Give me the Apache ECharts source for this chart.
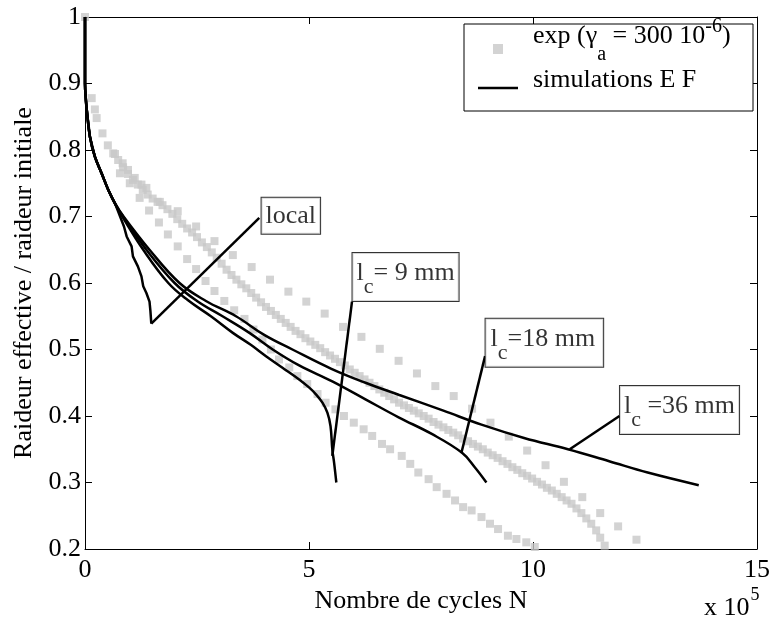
<!DOCTYPE html>
<html>
<head>
<meta charset="utf-8">
<script src="https://cdn.jsdelivr.net/npm/echarts@6/dist/echarts.min.js"></script>
<style>
  html, body { margin: 0; padding: 0; background: #fff; }
  #chart { width: 773px; height: 622px; }
</style>
</head>
<body>
<div id="chart"></div>
<script>
// axes
const xTicks = [0, 5, 10, 15];
const yTicks = [0.2, 0.3, 0.4, 0.5, 0.6, 0.7, 0.8, 0.9, 1];

// experimental points (N in 10^5 cycles, stiffness ratio)
const expUpper = [
  [0, 1.0], [0.15, 0.878], [0.22, 0.861], [0.26, 0.848], [0.39, 0.825], [0.51, 0.807],
  [0.67, 0.794], [0.84, 0.78], [0.96, 0.77], [1.11, 0.758], [1.26, 0.748], [1.37, 0.743],
  [1.67, 0.722], [2.07, 0.708], [2.48, 0.685], [2.89, 0.663], [3.3, 0.642], [3.72, 0.624],
  [4.13, 0.605], [4.54, 0.587], [4.94, 0.572], [5.35, 0.554], [5.76, 0.534], [6.17, 0.519],
  [6.58, 0.501], [7.0, 0.483], [7.41, 0.464], [7.82, 0.445], [8.23, 0.43], [8.64, 0.411],
  [9.05, 0.39], [9.46, 0.369], [9.87, 0.348], [10.28, 0.326], [10.69, 0.301], [11.1, 0.278],
  [11.5, 0.254], [11.9, 0.234], [12.31, 0.214]
];
const expMiddle = [
  [0.63, 0.795], [0.74, 0.785], [0.85, 0.774], [0.96, 0.764], [1.07, 0.755], [1.18, 0.748],
  [1.29, 0.74], [1.4, 0.733], [1.51, 0.727], [1.62, 0.722], [1.73, 0.717], [1.84, 0.711],
  [1.95, 0.704], [2.06, 0.696], [2.17, 0.689], [2.28, 0.682], [2.39, 0.676], [2.5, 0.669],
  [2.61, 0.661], [2.72, 0.654], [2.83, 0.646], [2.94, 0.638], [3.05, 0.629], [3.16, 0.62],
  [3.27, 0.612], [3.38, 0.605], [3.49, 0.598], [3.6, 0.592], [3.71, 0.585], [3.82, 0.578],
  [3.93, 0.571], [4.04, 0.564], [4.15, 0.558], [4.26, 0.552], [4.37, 0.546], [4.48, 0.54],
  [4.59, 0.534], [4.7, 0.528], [4.81, 0.523], [4.92, 0.517], [5.03, 0.512], [5.14, 0.507],
  [5.25, 0.502], [5.36, 0.496], [5.47, 0.491], [5.58, 0.486], [5.69, 0.481], [5.8, 0.476],
  [5.91, 0.47], [6.02, 0.465], [6.13, 0.46], [6.24, 0.455], [6.35, 0.45], [6.46, 0.445],
  [6.57, 0.44], [6.68, 0.435], [6.79, 0.43], [6.9, 0.425], [7.01, 0.42], [7.12, 0.416],
  [7.23, 0.412], [7.34, 0.408], [7.45, 0.404], [7.56, 0.4], [7.67, 0.396], [7.78, 0.391],
  [7.89, 0.387], [8.0, 0.383], [8.11, 0.379], [8.22, 0.375], [8.33, 0.371], [8.44, 0.366],
  [8.55, 0.362], [8.66, 0.358], [8.77, 0.354], [8.88, 0.35], [8.99, 0.345], [9.1, 0.341],
  [9.21, 0.337], [9.32, 0.332], [9.43, 0.328], [9.54, 0.323], [9.65, 0.319], [9.76, 0.314],
  [9.87, 0.31], [9.98, 0.306], [10.09, 0.301], [10.2, 0.297], [10.31, 0.292], [10.42, 0.288],
  [10.53, 0.283], [10.64, 0.278], [10.75, 0.273], [10.86, 0.268], [10.97, 0.261], [11.08, 0.254],
  [11.19, 0.246], [11.3, 0.238], [11.41, 0.228], [11.5, 0.217], [11.6, 0.205]
];
const expLower = [
  [0.78, 0.765], [1.0, 0.75], [1.22, 0.728], [1.43, 0.709], [1.65, 0.691], [1.85, 0.673],
  [2.07, 0.655], [2.28, 0.636], [2.48, 0.621], [2.69, 0.603], [2.89, 0.588], [3.11, 0.573],
  [3.33, 0.559], [3.56, 0.546], [3.76, 0.53], [3.96, 0.515], [4.15, 0.5], [4.33, 0.485],
  [4.56, 0.473], [4.74, 0.46], [4.96, 0.448], [5.19, 0.433], [5.37, 0.42], [5.59, 0.41],
  [5.78, 0.4], [6.0, 0.39], [6.22, 0.38], [6.41, 0.37], [6.63, 0.358], [6.81, 0.35],
  [7.07, 0.34], [7.26, 0.328], [7.44, 0.315], [7.67, 0.305], [7.85, 0.293], [8.07, 0.283],
  [8.26, 0.273], [8.44, 0.263], [8.63, 0.258], [8.85, 0.248], [9.04, 0.238], [9.22, 0.23],
  [9.44, 0.22], [9.63, 0.215], [9.85, 0.21], [10.04, 0.203]
];

// FE simulations
const simLocal = [
  [0, 1.0], [0, 0.9], [0.02, 0.875], [0.04, 0.86], [0.11, 0.82], [0.22, 0.79], [0.37, 0.765],
  [0.52, 0.74], [0.68, 0.718], [0.87, 0.685], [0.93, 0.67], [1.04, 0.655], [1.07, 0.64],
  [1.18, 0.625], [1.26, 0.61], [1.3, 0.595], [1.37, 0.585], [1.44, 0.572], [1.46, 0.558], [1.48, 0.539]
];
const sim9 = [
  [0, 1.0], [0, 0.9], [0.02, 0.875], [0.04, 0.86], [0.11, 0.82], [0.22, 0.79], [0.37, 0.765],
  [0.52, 0.74], [0.68, 0.718], [0.85, 0.698], [1.3, 0.65], [1.86, 0.6], [2.3, 0.574],
  [2.81, 0.55], [3.3, 0.525], [3.7, 0.507], [4.04, 0.49], [4.4, 0.473], [4.78, 0.455],
  [5.0, 0.443], [5.15, 0.433], [5.3, 0.42], [5.41, 0.405], [5.48, 0.385], [5.52, 0.35],
  [5.56, 0.33], [5.61, 0.3]
];
const sim18 = [
  [0, 1.0], [0, 0.9], [0.02, 0.875], [0.04, 0.86], [0.11, 0.82], [0.22, 0.79], [0.37, 0.765],
  [0.52, 0.74], [0.68, 0.718], [0.85, 0.7], [1.37, 0.65], [2.0, 0.6], [2.5, 0.573],
  [3.07, 0.55], [3.67, 0.525], [4.19, 0.5], [4.78, 0.476], [5.52, 0.452], [6.26, 0.425],
  [7.0, 0.398], [7.74, 0.373], [8.41, 0.345], [8.7, 0.323], [8.96, 0.3]
];
const sim36 = [
  [0, 1.0], [0, 0.9], [0.02, 0.875], [0.04, 0.86], [0.11, 0.82], [0.22, 0.79], [0.37, 0.765],
  [0.52, 0.74], [0.68, 0.719], [0.85, 0.701], [1.44, 0.65], [2.11, 0.6], [2.7, 0.573],
  [3.37, 0.55], [4.0, 0.522], [4.63, 0.5], [5.5, 0.471], [6.26, 0.45], [7.0, 0.432],
  [8.0, 0.408], [8.85, 0.387], [9.8, 0.367], [10.78, 0.35], [11.7, 0.332], [12.56, 0.315],
  [13.7, 0.296]
];

// annotation boxes: anchor (left middle of box) and leader line
const noteText = ['local', '{t|l}{sub|c}{t|= 9 mm}', '{t|l}{sub|c}{t|=18 mm}', '{t|l}{sub|c}{t| =36 mm}'];
const noteAnchor = [[3.93, 0.701], [5.96, 0.609], [8.93, 0.51], [11.93, 0.409]];
const noteLeaders = [
  [[3.89, 0.698], [1.48, 0.539]],
  [[5.96, 0.572], [5.52, 0.34]],
  [[8.93, 0.49], [8.4, 0.344]],
  [[11.93, 0.4], [10.82, 0.35]]
];

const FONT = '"Liberation Serif", "Times New Roman", serif';
const expName = 'exp';
const simName = 'simulations E F';

const chart = echarts.init(document.getElementById('chart'));

const simLine = (data, smooth) => ({
  name: simName,
  type: 'line',
  data: data,
  symbol: 'none',
  smooth: smooth,
  z: 4,
  color: '#000',
  lineStyle: { color: '#000', width: 2.5 },
  animation: false
});

const leaderLines = noteLeaders.map((d) => ({
  type: 'line',
  data: d,
  symbol: 'none',
  z: 4,
  color: '#000',
  lineStyle: { color: '#000', width: 2.5 },
  silent: true,
  animation: false
}));

const boxRich = {
  t: { fontSize: 26, fontFamily: FONT, color: '#000', padding: [0, 0, 6, 0] },
  sub: { fontSize: 22, fontFamily: FONT, color: '#000', padding: [22, 0, 0, 0] }
};

const legendRich = {
  t: { fontSize: 26, fontFamily: FONT, color: '#000' },
  sub: { fontSize: 20, fontFamily: FONT, color: '#000', padding: [38, 0, 0, 0] },
  sup: { fontSize: 20, fontFamily: FONT, color: '#000', padding: [0, 0, 18, 0] }
};

const legendCommon = {
  orient: 'vertical',
  left: 478,
  padding: 0,
  itemWidth: 40,
  selectedMode: false,
  textStyle: {
    fontSize: 26, fontFamily: FONT, color: '#000',
    padding: [0, 0, 0, 10],
    rich: legendRich
  }
};

const axisCommon = {
  type: 'value',
  axisLine: { show: true, onZero: false, lineStyle: { color: '#000', width: 1 } },
  axisTick: { show: true, inside: true, length: 7, lineStyle: { color: '#000', width: 1 } },
  splitLine: { show: false }
};

const option = {
  backgroundColor: '#fff',
  animation: false,
  grid: { left: 85, right: 13, top: 17, bottom: 73 },
  xAxis: [
    Object.assign({}, axisCommon, {
      position: 'bottom',
      min: xTicks[0], max: xTicks[xTicks.length - 1], interval: 5,
      name: 'Nombre de cycles N',
      nameLocation: 'middle',
      nameGap: 28,
      nameTextStyle: { fontSize: 26, fontFamily: FONT, color: '#000' },
      axisLabel: { fontSize: 26, fontFamily: FONT, color: '#000', margin: 8 }
    }),
    Object.assign({}, axisCommon, {
      position: 'top',
      min: xTicks[0], max: xTicks[xTicks.length - 1], interval: 5,
      axisLabel: { show: false }
    })
  ],
  yAxis: [
    Object.assign({}, axisCommon, {
      position: 'left',
      min: yTicks[0], max: yTicks[yTicks.length - 1], interval: 0.1,
      name: 'Raideur effective / raideur initiale',
      nameLocation: 'middle',
      nameGap: 46,
      nameTextStyle: { fontSize: 26, fontFamily: FONT, color: '#000' },
      axisLabel: { fontSize: 26, fontFamily: FONT, color: '#000', margin: 4 }
    }),
    Object.assign({}, axisCommon, {
      position: 'right',
      min: yTicks[0], max: yTicks[yTicks.length - 1], interval: 0.1,
      axisLabel: { show: false }
    })
  ],
  legend: [
    Object.assign({}, legendCommon, {
      top: 17,
      itemHeight: 36,
      data: [{ name: expName, icon: 'path://M0,0 M40,36 M15,26 L25,26 L25,36 L15,36 Z' }],
      formatter: () => '{t|exp (γ}{sub|a}{t| = 300 10}{sup|-6}{t|)}'
    }),
    Object.assign({}, legendCommon, {
      top: 60,
      itemHeight: 40,
      data: [{ name: simName, icon: 'path://M0,0 M40,40 M0,26.75 L40,26.75 L40,29.25 L0,29.25 Z' }],
      formatter: (name) => '{t|' + name + '}'
    })
  ],
  graphic: [
    {
      type: 'rect',
      shape: { x: 464, y: 24, width: 289, height: 87 },
      style: { fill: '#fff', stroke: '#000', lineWidth: 1 },
      z: 3
    },
    {
      type: 'text',
      left: 704,
      top: 586,
      z: 10,
      style: {
        text: '{a|x 10}{b|5}',
        rich: {
          a: { fontSize: 26, fontFamily: FONT, color: '#000', padding: [12, 0, 0, 0] },
          b: { fontSize: 18, fontFamily: FONT, color: '#000', padding: [0, 0, 14, 1] }
        }
      }
    }
  ],
  series: [
    {
      name: expName,
      type: 'scatter',
      data: expUpper.concat(expMiddle, expLower),
      symbol: 'rect',
      symbolSize: 8,
      color: '#c8c8c8',
      itemStyle: { color: '#c8c8c8' },
      clip: false,
      z: 2,
      animation: false
    },
    simLine(simLocal, false),
    simLine(sim9, 0.4),
    simLine(sim18, 0.4),
    simLine(sim36, 0.4)
  ].concat(leaderLines, [
    {
      type: 'scatter',
      data: noteAnchor.map((p, i) => ({
        value: p,
        note: noteText[i],
        label: { padding: i === 0 ? [5, 4, 5, 4] : (i === 2 ? [1, 8, 3, 5] : [1, 4, 3, 4]) }
      })),
      symbolSize: 1,
      itemStyle: { color: 'transparent' },
      silent: true,
      z: 6,
      label: {
        show: true,
        position: 'right',
        distance: 0,
        formatter: (p) => p.data.note,
        fontSize: 26,
        fontFamily: FONT,
        color: '#000',
        backgroundColor: '#fff',
        borderColor: '#000',
        borderWidth: 1,
        rich: boxRich
      },
      animation: false
    }
  ])
};

chart.setOption(option);
</script>
</body>
</html>
